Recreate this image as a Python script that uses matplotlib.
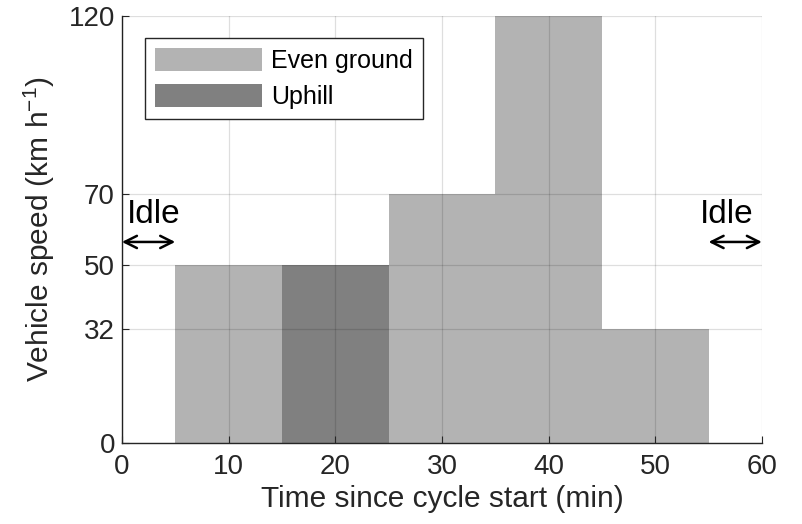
import numpy as np
import matplotlib.pyplot as plt
from matplotlib.patches import Patch

plt.rcParams['font.family'] = ['Liberation Sans', 'DejaVu Sans']
plt.rcParams['mathtext.fontset'] = 'custom'
plt.rcParams['mathtext.rm'] = 'Liberation Sans'

seg_start = [5, 15, 25, 35, 45]
seg_speed = [50, 50, 70, 120, 32]
seg_uphill = [False, True, False, False, False]
seg_len = 10

light = '#b3b3b3'
dark = '#808080'
txt = '#262626'

fig = plt.figure(figsize=(8.02, 5.24), dpi=100)
ax = fig.add_axes([0.152, 0.155, 0.798, 0.814])

for x0, v, up in zip(seg_start, seg_speed, seg_uphill):
    ax.bar(x0, v, width=seg_len, align='edge', color=dark if up else light,
           edgecolor='none', zorder=1)

ax.set_axisbelow(False)
ax.grid(True, color='black', alpha=0.13, linewidth=0.9, zorder=2)

ax.set_xlim(0, 60)
ax.set_ylim(0, 120)
ax.set_xticks(np.arange(0, 61, 10))
ax.set_yticks([0, 32, 50, 70, 120])
ax.tick_params(direction='in', length=5, labelsize=20, colors=txt)
ax.tick_params(axis='x', pad=8)
ax.tick_params(axis='y', pad=5)
for s in ['top', 'right']:
    ax.spines[s].set_visible(False)
for s in ['left', 'bottom']:
    ax.spines[s].set_color(txt)
    ax.spines[s].set_linewidth(1.0)

ax.set_xlabel('Time since cycle start (min)', fontsize=21.5, color=txt, labelpad=4)
ax.set_ylabel('Vehicle speed (km h$^{\\mathrm{-1}}$)', fontsize=21.5, color=txt, labelpad=8)

# idle markers
for x0, x1 in [(0, 5), (55, 60)]:
    ax.annotate('', xy=(x0, 56.5), xytext=(x1, 56.5),
                arrowprops=dict(arrowstyle='<->', color='black', lw=1.8, mutation_scale=22,
                                shrinkA=0, shrinkB=0), annotation_clip=False)
ax.text(0.5, 61.8, 'Idle', fontsize=24, color='black', ha='left', va='baseline')
ax.text(56.7, 61.8, 'Idle', fontsize=24, color='black', ha='center', va='baseline')

handles = [Patch(facecolor=light, edgecolor='none', label='Even ground'),
           Patch(facecolor=dark, edgecolor='none', label='Uphill')]
leg = ax.legend(handles=handles, loc='upper left', bbox_to_anchor=(0.036, 0.948),
                borderaxespad=0, fontsize=18, frameon=True, fancybox=False,
                handlelength=4.3, handleheight=1.0, handletextpad=0.35,
                borderpad=0.4, labelspacing=0.45)
leg.get_frame().set_edgecolor(txt)
leg.get_frame().set_linewidth(1.0)
leg.get_frame().set_alpha(1)

fig.savefig('out.png', dpi=100)
